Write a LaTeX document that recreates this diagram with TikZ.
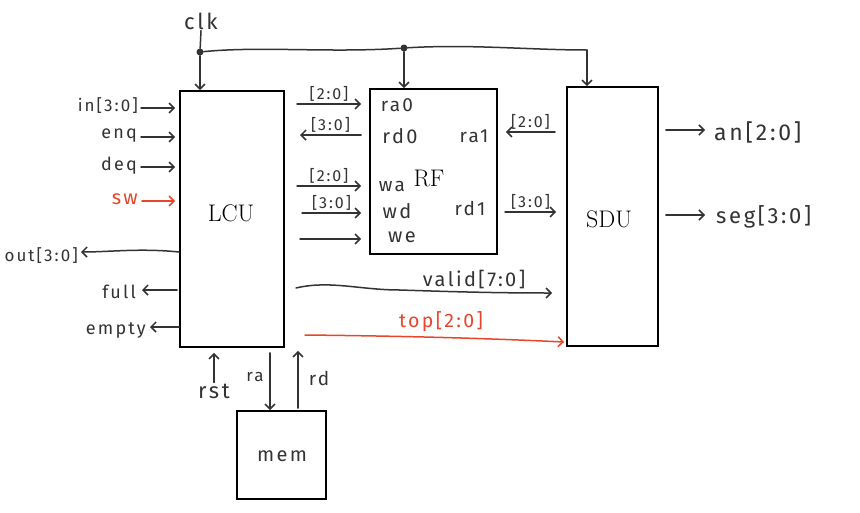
\documentclass[tikz,border=0pt]{standalone}
\usepackage{fontspec}
\newfontfamily\hand[LetterSpace=12]{Fira Sans}
\usetikzlibrary{arrows.meta,calc}
\definecolor{ink}{HTML}{333333}
\definecolor{redink}{HTML}{E8462A}
\newcommand{\hs}[1]{\hand\fontsize{#1}{#1}\selectfont}
\tikzset{
  box/.style={draw=black, line width=1.8pt, minimum width=#1, inner sep=0pt},
  wire/.style={draw=ink, line width=1.5pt, line cap=round},
  arr/.style={wire, -{Straight Barb[length=5pt,width=10pt]}},
  rarr/.style={arr, draw=redink},
  lbl/.style={font=\hs{18}, text=ink, inner sep=1pt},
  rlbl/.style={lbl, text=redink},
  bus/.style={font=\hs{16}, text=ink, inner sep=1pt},
  port/.style={font=\hs{19}, text=ink, inner sep=1pt},
  title/.style={font=\fontsize{24}{24}\selectfont, text=black},
  dot/.style={circle, fill=ink, inner sep=0pt, minimum size=7pt}
}
\begin{document}
\begin{tikzpicture}[x=1pt,y=-1pt]
\useasboundingbox (0,0) rectangle (860,512);
\fill[white] (0,0) rectangle (860,512);
% boxes
\node[box=104pt, minimum height=256pt] (lcu) at (232,219) {};
\node[title] (lcut) at (231,213) {LCU};
\node[box=127pt, minimum height=165pt] (rf) at (433.5,171.5) {};
\node[title] (rft) at (429,178) {RF};
\node[box=91pt, minimum height=259pt] (sdu) at (612.5,216.5) {};
\node[title] (sdut) at (609,219) {SDU};
\node[box=89pt, minimum height=88pt] (mem) at (281.5,455) {};
\node[lbl, font=\hs{20}] (memt) at (282,456) {mem};
% clock
\node[lbl, font=\hs{22}] (clk) at (201,21) {clk};
\node[dot] (d1) at (200,52) {};
\node[dot] (d2) at (404,48) {};
\coordinate (c3) at (587,50);
\draw[wire] (clk.south) -- (d1);
\draw[arr] (d1) -- (d1 |- lcu.north);
\draw[wire] (d1) .. controls (260,46) and (330,53) .. (d2);
\draw[wire] (d2) .. controls (470,44) and (530,50) .. (c3);
\draw[arr] (d2) -- (d2 |- rf.north);
\draw[arr] (c3) -- (c3 |- sdu.north);
% LCU left inputs
\node[lbl, anchor=east, font=\hs{17}] (in) at (139,106) {in[3:0]};
\node[lbl, anchor=east] (enq) at (138,136) {enq};
\node[lbl, anchor=east] (deq) at (138,166) {deq};
\node[rlbl, anchor=east, font=\hs{20}] (sw) at (139,199) {sw};
\draw[arr] ($(in.east)+(2,2)$) -- ($(in.east -| lcu.west)+(-4,2)$);
\draw[arr] ($(enq.east)+(3,1)$) -- ($(enq.east -| lcu.west)+(-4,1)$);
\draw[arr] ($(deq.east)+(3,1)$) -- ($(deq.east -| lcu.west)+(-4,1)$);
\draw[rarr] ($(sw.east)+(3,2)$) -- ($(sw.east -| lcu.west)+(-4,2)$);
% LCU left outputs
\node[lbl, anchor=east, font=\hs{17}] (out) at (79,256) {out[3:0]};
\node[lbl, anchor=east] (full) at (137,292) {full};
\node[lbl, anchor=east] (empty) at (147,330) {empty};
\draw[arr] ($(out.east -| lcu.west)+(0,-4)$) .. controls (140,248) and (110,252) .. ($(out.east)+(2,-4)$);
\draw[arr] ($(full.east -| lcu.west)+(-2,-2)$) -- ($(full.east)+(5,-2)$);
\draw[arr] ($(empty.east -| lcu.west)+(0,-3)$) -- ($(empty.east)+(3,-3)$);
% LCU <-> RF
\coordinate (a1) at (297,104);
\coordinate (a2) at (300,135);
\coordinate (a3) at (297,186);
\coordinate (a4) at (302,213);
\coordinate (a5) at (300,239);
\draw[arr] (a1) -- ($(a1 -| rf.west)+(-8,0)$) node[bus, midway, above=1pt] (b1) {[2:0]};
\draw[arr] ($(a2 -| rf.west)+(-8,0)$) -- (a2) node[bus, midway, above=1pt] (b2) {[3:0]};
\draw[arr] (a3) -- ($(a3 -| rf.west)+(-8,0)$) node[bus, midway, above=1pt] (b3) {[2:0]};
\draw[arr] (a4) -- ($(a4 -| rf.west)+(-8,0)$) node[bus, midway, above=1pt] (b4) {[3:0]};
\draw[arr] (a5) -- ($(a5 -| rf.west)+(-8,0)$);
% RF ports
\node[port] (ra0) at (397,105) {ra0};
\node[port, font=\hs{20}] (rd0) at (400,136) {rd0};
\node[port] (wa) at (392,186) {wa};
\node[port, font=\hs{20}] (wd) at (397,211) {wd};
\node[port, font=\hs{20}] (we) at (402,237) {we};
\node[port] (ra1) at (474,136) {ra1};
\node[port] (rd1) at (470,208) {rd1};
% RF <-> SDU
\coordinate (s1) at (555,132);
\coordinate (s2) at (505,212);
\draw[arr] (s1) -- ($(s1 -| rf.east)+(8,0)$) node[bus, midway, above=1pt] (b5) {[2:0]};
\draw[arr] (s2) -- ($(s2 -| sdu.west)+(-10,0)$) node[bus, midway, above=1pt] (b6) {[3:0]};
% SDU outputs
\node[lbl, anchor=west, font=\hs{23}] (an) at (713,132) {an[2:0]};
\node[lbl, anchor=west, font=\hs{22}] (seg) at (715,217) {seg[3:0]};
\draw[arr] ($(an.west -| sdu.east)+(7,-2)$) -- ($(an.west)+(-8,-2)$);
\draw[arr] ($(seg.west -| sdu.east)+(7,-2)$) -- ($(seg.west)+(-10,-2)$);
% long wires
\coordinate (v0) at (296,288);
\coordinate (t0) at (305,335);
\draw[arr] (v0) .. controls (330,280) and (360,290) .. (400,290)
  .. controls (460,292) and (500,293) .. ($(v0 -| sdu.west)+(-14,5)$);
\node[lbl, font=\hs{20}] (valid) at (474,279) {valid[7:0]};
\draw[rarr] (t0) .. controls (400,336) and (480,338) .. ($(t0 -| sdu.west)+(-2,7)$);
\node[rlbl, font=\hs{19.5}] (top) at (441,322) {top[2:0]};
% bottom
\node[lbl, font=\hs{22}] (rst) at (214,391) {rst};
\node[port, font=\hs{17}] (ral) at (255,377) {ra};
\node[port] (rdl) at (319,378) {rd};
\draw[arr] (rst.north) -- ($(rst.north |- lcu.south)+(0,5)$);
\draw[arr] ($(lcu.south)+(38,5)$) -- ($(mem.north)+(-11.5,0)$);
\draw[arr] ($(mem.north)+(16.5,-2)$) -- ($(lcu.south)+(66,3)$);
\end{tikzpicture}
\end{document}
